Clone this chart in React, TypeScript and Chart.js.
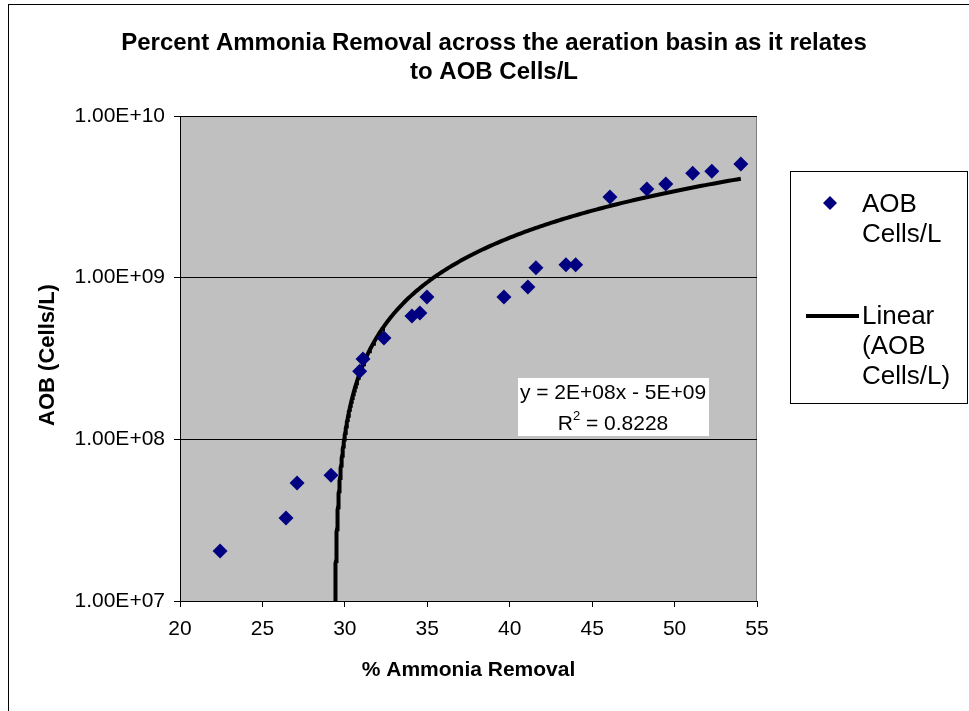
import React, { useEffect, useRef } from "react";
import { Chart, registerables } from "chart.js";

Chart.register(...registerables);

// ---- Data ----
const ammoniaRemoval = [22.43, 26.43, 27.1, 29.16, 30.9, 31.1, 32.37, 34.07, 34.55, 34.98, 39.65, 41.1, 41.59, 43.41, 44.0, 46.08, 48.32, 49.47, 51.1, 52.26, 54.02];
const aobCells = [2.04e7, 3.26e7, 5.37e7, 6.0e7, 2.64e8, 3.14e8, 4.23e8, 5.79e8, 6.04e8, 7.59e8, 7.59e8, 8.75e8, 1.15e9, 1.2e9, 1.2e9, 3.15e9, 3.53e9, 3.79e9, 4.43e9, 4.56e9, 5.04e9];
const yTicks = [1e7, 1e8, 1e9, 1e10];
const xTicks = [20, 25, 30, 35, 40, 45, 50, 55];
const titleLines = ["Percent Ammonia Removal across the aeration basin as it relates", "to AOB Cells/L"];
const xTitle = "% Ammonia Removal";
const yTitle = "AOB (Cells/L)";
const seriesName = "AOB Cells/L";
const legendPointLines = ["AOB", "Cells/L"];
const legendLineLines = ["Linear", "(AOB", "Cells/L)"];
const equationText = "y = 2E+08x - 5E+09";
const r2Value = "0.8228";

const FONT = "'Liberation Sans', Arial, sans-serif";
const NAVY = "#000080";

function linearFit(xs: number[], ys: number[]) {
  const n = xs.length;
  const mx = xs.reduce((a, b) => a + b, 0) / n;
  const my = ys.reduce((a, b) => a + b, 0) / n;
  let sxy = 0, sxx = 0;
  for (let i = 0; i < n; i++) {
    sxy += (xs[i] - mx) * (ys[i] - my);
    sxx += (xs[i] - mx) * (xs[i] - mx);
  }
  const a = sxy / sxx;
  return { a, b: my - a * mx };
}

function fmtExp(v: number) {
  const e = Math.floor(Math.log10(v) + 1e-9);
  const m = v / Math.pow(10, e);
  return m.toFixed(2) + "E" + (e >= 0 ? "+" : "-") + String(Math.abs(e)).padStart(2, "0");
}

export default function App() {
  const ref = useRef<HTMLCanvasElement | null>(null);

  useEffect(() => {
    const canvas = ref.current;
    if (!canvas) return;

    const { a, b } = linearFit(ammoniaRemoval, aobCells);
    const yMin = yTicks[0];
    const xMax = Math.max(...ammoniaRemoval);
    const x0 = (yMin - b) / a;
    const trend: { x: number; y: number }[] = [];
    const steps = 300;
    for (let i = 0; i <= steps; i++) {
      const t = i / steps;
      const x = x0 + (xMax - x0) * t * t * t;
      trend.push({ x, y: Math.max(a * x + b, yMin) });
    }

    const points = ammoniaRemoval.map((x, i) => ({ x, y: aobCells[i] }));

    const decor = {
      id: "decor",
      beforeDraw(chart: any) {
        const ctx = chart.ctx;
        const ca = chart.chartArea;
        ctx.save();
        ctx.fillStyle = "#ffffff";
        ctx.fillRect(0, 0, chart.width, chart.height);
        ctx.strokeStyle = "#000000";
        ctx.lineWidth = 1;
        ctx.strokeRect(8.5, 4.5, chart.width + 10, chart.height + 10);
        ctx.fillStyle = "#C0C0C0";
        ctx.fillRect(ca.left, ca.top, ca.right - ca.left, ca.bottom - ca.top);
        ctx.strokeStyle = "#808080";
        ctx.strokeRect(ca.left + 0.5, ca.top + 0.5, ca.right - ca.left - 1, ca.bottom - ca.top);
        ctx.restore();
      },
      afterDraw(chart: any) {
        const ctx = chart.ctx;
        const ca = chart.chartArea;
        ctx.save();
        ctx.fillStyle = "#000000";
        ctx.textBaseline = "middle";
        // Title
        ctx.font = `bold 24px ${FONT}`;
        ctx.textAlign = "center";
        titleLines.forEach((l, i) => ctx.fillText(l, 494, 43 + i * 29));
        // Axis titles
        ctx.font = `bold 21px ${FONT}`;
        ctx.fillText(xTitle, (ca.left + ca.right) / 2, 670);
        ctx.save();
        ctx.font = `bold 22px ${FONT}`;
        ctx.translate(48, 355);
        ctx.rotate(-Math.PI / 2);
        ctx.fillText(yTitle, 0, 0);
        ctx.restore();

        // Equation box
        ctx.fillStyle = "#ffffff";
        ctx.fillRect(518, 378, 191, 58);
        ctx.fillStyle = "#000000";
        ctx.font = `21px ${FONT}`;
        ctx.textAlign = "center";
        ctx.fillText(equationText, 613, 393);
        const rest = " = " + r2Value;
        const wR = ctx.measureText("R").width;
        ctx.font = `13px ${FONT}`;
        const w2 = ctx.measureText("2").width;
        ctx.font = `21px ${FONT}`;
        const wRest = ctx.measureText(rest).width;
        const total = wR + w2 + wRest;
        const sx = 613 - total / 2;
        ctx.textAlign = "left";
        ctx.fillText("R", sx, 424);
        ctx.font = `13px ${FONT}`;
        ctx.fillText("2", sx + wR, 416);
        ctx.font = `21px ${FONT}`;
        ctx.fillText(rest, sx + wR + w2, 424);

        // Legend
        ctx.strokeStyle = "#000000";
        ctx.lineWidth = 1;
        ctx.strokeRect(790.5, 171.5, 177, 232);
        ctx.fillStyle = NAVY;
        ctx.beginPath();
        ctx.moveTo(830, 196);
        ctx.lineTo(837, 203);
        ctx.lineTo(830, 210);
        ctx.lineTo(823, 203);
        ctx.closePath();
        ctx.fill();
        ctx.fillStyle = "#000000";
        ctx.textAlign = "left";
        ctx.font = `26px ${FONT}`;
        legendPointLines.forEach((l, i) => ctx.fillText(l, 862, 205 + i * 30));
        ctx.lineWidth = 4;
        ctx.beginPath();
        ctx.moveTo(806, 316);
        ctx.lineTo(859, 316);
        ctx.stroke();
        legendLineLines.forEach((l, i) => ctx.fillText(l, 862, 317 + i * 30));
        ctx.restore();
      },
    };

    const chart = new Chart(canvas, {
      type: "scatter",
      data: {
        datasets: [
          {
            label: seriesName,
            data: points,
            pointStyle: "rectRot",
            pointRadius: 7.5,
            pointHoverRadius: 7.5,
            backgroundColor: NAVY,
            borderColor: NAVY,
            borderWidth: 0,
            order: 1,
          },
          {
            label: "Linear (" + seriesName + ")",
            data: trend,
            showLine: true,
            pointRadius: 0,
            borderColor: "#000000",
            borderWidth: 4,
            fill: false,
            order: 2,
          } as any,
        ],
      },
      options: {
        responsive: false,
        animation: false,
        events: [],
        layout: { padding: { top: 116, right: 212, left: 0, bottom: 0 } },
        plugins: {
          legend: { display: false },
          title: { display: false },
          tooltip: { enabled: false },
        },
        scales: {
          x: {
            type: "linear",
            min: 20,
            max: 55,
            afterFit: (s: any) => { s.height = 110; },
            afterBuildTicks: (s: any) => { s.ticks = xTicks.map((v) => ({ value: v })); },
            ticks: {
              color: "#000000",
              font: { family: FONT, size: 21 },
              padding: 10,
              maxRotation: 0,
              callback: (v: any) => String(v),
            },
            grid: { drawOnChartArea: false, drawTicks: true, tickLength: 6, tickColor: "#000000" },
            border: { display: true, color: "#000000", width: 1 },
          },
          y: {
            type: "logarithmic",
            min: 1e7,
            max: 1e10,
            afterFit: (s: any) => { s.width = 180; },
            afterBuildTicks: (s: any) => { s.ticks = yTicks.map((v) => ({ value: v })); },
            ticks: {
              color: "#000000",
              font: { family: FONT, size: 21 },
              padding: 9,
              autoSkip: false,
              callback: (v: any) => fmtExp(Number(v)),
            },
            grid: { color: "#000000", lineWidth: 1, drawTicks: true, tickLength: 6, tickColor: "#000000" },
            border: { display: true, color: "#000000", width: 1 },
          },
        },
      },
      plugins: [decor],
    });

    return () => chart.destroy();
  }, []);

  return (
    <canvas
      ref={ref}
      width={969}
      height={711}
      style={{ position: "absolute", left: 0, top: 0, width: 969, height: 711, display: "block" }}
    />
  );
}
